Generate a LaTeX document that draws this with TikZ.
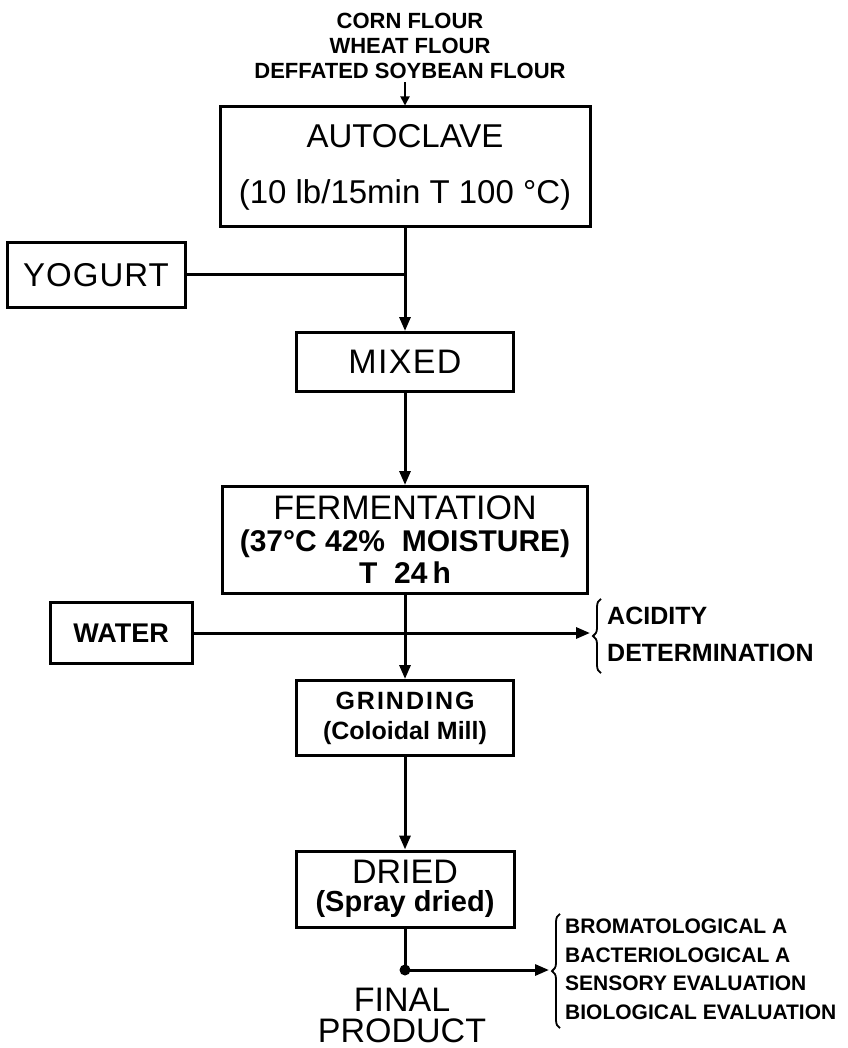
\documentclass[tikz,border=0pt]{standalone}
\usepackage{fontspec}
\setmainfont{Liberation Sans}
\usetikzlibrary{arrows.meta, decorations.pathreplacing}

\newcommand{\setsz}[2]{\fontsize{#1}{#2}\selectfont}

\tikzset{
  box/.style={draw, line width=3pt, inner sep=0pt, align=center},
  flow/.style={line width=3pt, -{Triangle[length=14pt,width=11pt]}},
  link/.style={line width=3pt},
  note/.style={anchor=west, inner sep=0pt},
  curly/.style={line width=1.8pt, decorate, decoration={brace, amplitude=8pt}},
}

\begin{document}
\begin{tikzpicture}[x=1pt,y=-1pt]
    \useasboundingbox (0,0) rectangle (847,1048);

    \node[align=center, font=\bfseries\setsz{22}{25}] at (410,46) (flours) {CORN FLOUR\\WHEAT FLOUR\\DEFFATED SOYBEAN FLOUR};
    \node[box, minimum width=370pt, minimum height=120pt, font=\setsz{33}{56}] at (405,167) (autoclave) {AUTOCLAVE\\(10 lb/15min T 100 °C)};
    \node[box, minimum width=178pt, minimum height=65pt, font=\setsz{33}{40}\addfontfeature{LetterSpace=3}] at (96,275) (yogurt) {YOGURT};
    \node[box, minimum width=217pt, minimum height=59pt, font=\setsz{34}{40}\addfontfeature{LetterSpace=4}] at (405,362) (mixed) {MIXED};
    \node[box, minimum width=365pt, minimum height=107pt, font=\setsz{34}{32}] at (405,540) (ferment) {FERMENTATION\\{\bfseries\setsz{30}{32}(37°C 42\%~~MOISTURE)}\\{\bfseries\setsz{30}{32}T~~24\,h}};
    \node[box, minimum width=142pt, minimum height=61pt, font=\bfseries\setsz{27}{32}] at (121,633) (water) {WATER};
    \node[note, font=\bfseries\setsz{25}{37}] at (607,636) (acidity) {\begin{tabular}{@{}l@{}}ACIDITY\\DETERMINATION\end{tabular}};
    \node[box, minimum width=217pt, minimum height=75pt, font=\bfseries\setsz{25}{30}] at (405,718) (grinding) {{\addfontfeature{LetterSpace=8}GRINDING}\\(Coloidal Mill)};
    \node[box, minimum width=218pt, minimum height=76pt, font=\setsz{34}{28}] at (405,889) (dried) {DRIED\\{\bfseries\setsz{29}{28}(Spray dried)}};
    \coordinate (dot) at (405,970);
    \fill (dot) circle (5.5pt);
    \node[align=center, inner sep=0pt, font=\setsz{34}{31}] at (402,1015) (final) {FINAL\\PRODUCT};
    \node[note, font=\bfseries\setsz{21}{28.5}] at (565,971) (analyses) {\begin{tabular}{@{}l@{}}BROMATOLOGICAL A\\BACTERIOLOGICAL A\\SENSORY EVALUATION\\BIOLOGICAL EVALUATION\end{tabular}};

    % braces
    \draw[curly] ([xshift=-6pt]acidity.south west) -- ([xshift=-6pt]acidity.north west);
    \draw[curly] ([xshift=-5pt]analyses.south west) -- ([xshift=-5pt]analyses.north west);

    \draw[line width=1.8pt, -{Triangle[length=9pt,width=9pt]}] (autoclave.north |- flours.south) -- (autoclave.north);
    \draw[flow] (autoclave) -- (mixed);
    \draw[link] (yogurt) -- (yogurt -| autoclave);
    \draw[flow] (mixed) -- (ferment);
    \draw[flow] (ferment) -- (grinding);
    \draw[flow, shorten >=17pt] (water) -- (water -| acidity.west);
    \draw[flow] (grinding) -- (dried);
    \draw[link] (dried) -- (dot);
    \draw[flow, shorten >=16pt] (dot) -- (dot -| analyses.west);
\end{tikzpicture}
\end{document}
